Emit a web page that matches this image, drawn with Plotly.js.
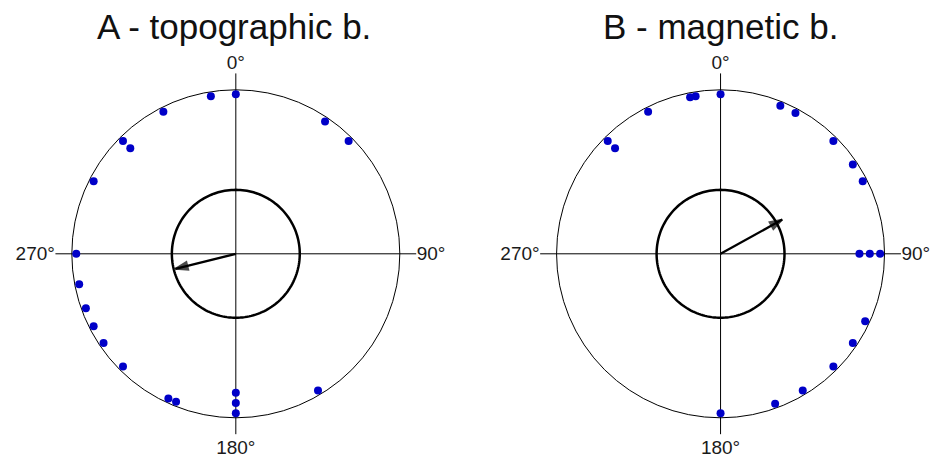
<!DOCTYPE html>
<html>
<head>
<meta charset="utf-8">
<script src="https://cdn.plot.ly/plotly-3.0.1.min.js"></script>
<style>
html,body{margin:0;padding:0;background:#fff}
#grafica{width:933px;height:462px}
</style>
</head>
<body>
<div id="grafica"></div>
<script>
// bearings in degrees, clockwise from north
const angulosA = [0, 34, 45, 149, 180, 180, 180, 202, 205, 225, 236, 243, 250, 259, 270, 297, 315, 315, 333, 351];
const angulosB = [0, 22, 28, 45, 56, 63, 90, 90, 90, 115, 124, 135, 149, 160, 180, 315, 315, 333, 349, 351];

// mean vector (direction, length) and inner reference circle
const mediaAngulo = [256, 61];
const mediaLargo = [0.38, 0.43];
const circuloInterno = [0.39, 0.39];

const titulos = ['A - topographic b.', 'B - magnetic b.'];
const etiquetas = ['0°', '90°', '180°', '270°'];
const marcas = [0, 90, 180, 270];

// repeated values get stacked inwards
function apilar(angulos){
    const vistos = {};
    return angulos.map(a => {
        const k = vistos[a] || 0;
        vistos[a] = k + 1;
        return 0.973 - 0.063 * k;
    });
}

function circulo(r){
    const th = [];
    for(let i = 0; i <= 360; i += 2) th.push(i);
    return {r: th.map(() => r), theta: th};
}

const traces = [];
[angulosA, angulosB].forEach((angulos, i) => {
    const sub = i === 0 ? 'polar' : 'polar2';
    const c = circulo(circuloInterno[i]);
    traces.push({
        type: 'scatterpolar', subplot: sub,
        r: c.r, theta: c.theta,
        mode: 'lines',
        line: {color: 'black', width: 2.5},
        hoverinfo: 'skip'
    });
    traces.push({
        type: 'scatterpolar', subplot: sub,
        r: [0, mediaLargo[i]],
        theta: [mediaAngulo[i], mediaAngulo[i]],
        mode: 'lines+markers',
        line: {color: 'black', width: 2.3},
        marker: {
            symbol: ['circle', 'arrow'],
            size: [0, 13],
            color: 'black',
            angle: mediaAngulo[i],
            angleref: 'up',
            line: {color: 'black', width: 1.8}
        }
    });
    traces.push({
        type: 'scatterpolar', subplot: sub,
        r: apilar(angulos), theta: angulos,
        mode: 'markers',
        marker: {color: '#0000c8', size: 8}
    });
});

const eje = {
    bgcolor: 'white',
    angularaxis: {
        rotation: 90,
        direction: 'clockwise',
        tickmode: 'array',
        tickvals: marcas,
        ticktext: etiquetas,
        ticks: '',
        showline: false,
        showgrid: true,
        gridcolor: 'black',
        gridwidth: 1,
        tickfont: {family: 'Liberation Sans, Arial', size: 19, color: '#1a1a1a'}
    },
    radialaxis: {
        range: [0, 1.1],
        tickmode: 'array',
        tickvals: [1],
        showticklabels: false,
        ticks: '',
        showline: false,
        showgrid: true,
        gridcolor: 'black',
        gridwidth: 1
    }
};

const layout = {
    width: 933,
    height: 462,
    margin: {l: 0, r: 0, t: 0, b: 0},
    paper_bgcolor: 'white',
    showlegend: false,
    polar: Object.assign({domain: {x: [0.0594, 0.4461], y: [0.0602, 0.8411]}}, JSON.parse(JSON.stringify(eje))),
    polar2: Object.assign({domain: {x: [0.5789, 0.9657], y: [0.0602, 0.8411]}}, JSON.parse(JSON.stringify(eje))),
    annotations: titulos.map((t, i) => ({
        text: t,
        xref: 'paper', yref: 'paper',
        x: i === 0 ? 0.251 : 0.772,
        y: 0.942,
        xanchor: 'center', yanchor: 'middle',
        showarrow: false,
        font: {family: 'Liberation Sans, Arial', size: 35, color: '#111'}
    }))
};

Plotly.newPlot('grafica', traces, layout, {staticPlot: true});
</script>
</body>
</html>
